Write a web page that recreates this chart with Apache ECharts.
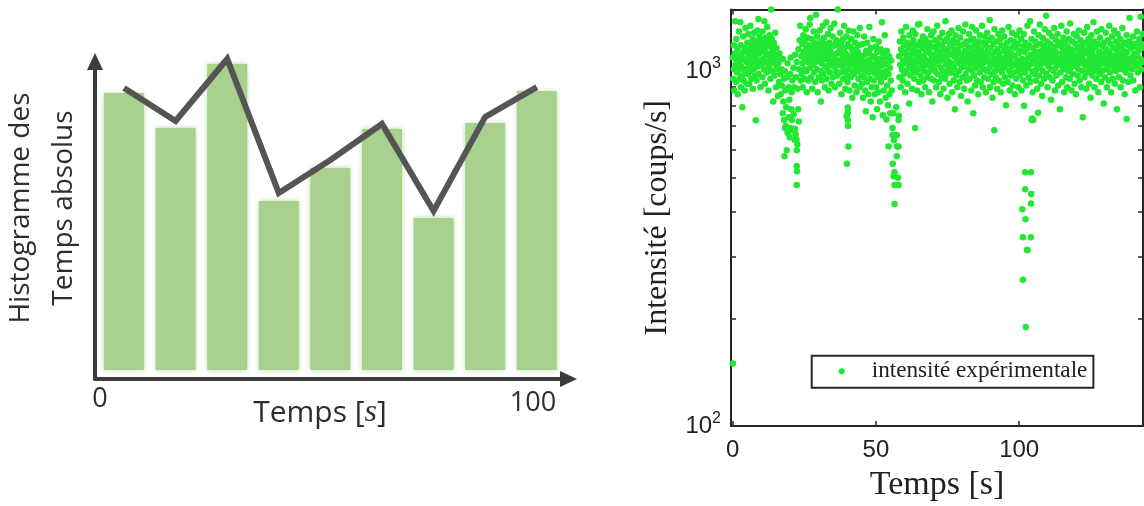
<!DOCTYPE html>
<html><head><meta charset="utf-8">
<script src="https://cdn.jsdelivr.net/npm/echarts@6/dist/echarts.min.js"></script>
<style>html,body{margin:0;padding:0;background:#fff}#c{width:1144px;height:506px}</style>
</head><body><div id="c"></div><script>
// ---------- left schematic histogram ----------
const histCategories = ['b1','b2','b3','b4','b5','b6','b7','b8','b9'];
const histBars = [86.6, 75.6, 95.6, 52.8, 63.1, 75.3, 47.5, 77.2, 87.2];
const histLine = [88.1, 77.8, 97.2, 55.3, 65.6, 76.9, 49.7, 79.1, 88.4];
const histXLabels = ['0', '100'];
const histYTitle = 'Histogramme des\nTemps absolus';

// ---------- right scatter (t [s], intensité [coups/s]) ----------
const scatterXTicks = [0, 50, 100];
const scatterYTicks = [100, 1000];
const scatterYMinor = [100, 200, 300, 400, 500, 600, 700, 800, 900, 1000];

const band_00_10 = [[0.1,1090],[0.2,950],[0.4,1180],[0.5,1010],[0.6,880],[0.8,1120],[0.9,1380],[1.0,1040],[1.2,930],[1.3,1230],[1.4,1070],[1.6,990],[1.7,1150],[1.8,860],[2.0,1100],[2.1,1010],[2.2,1290],[2.4,950],[2.5,1060],[2.7,1370],[2.8,1180],[2.9,900],[3.0,1030],[3.2,1120],[3.3,970],[3.4,790],[3.6,1080],[3.7,1250],[3.8,940],[4.0,1010],[4.1,1160],[4.2,880],[4.4,1070],[4.5,1320],[4.6,990],[4.8,1130],[4.9,920],
[5.0,1060],[5.1,1200],[5.3,980],[5.4,1110],[5.5,1270],[5.7,1030],[5.8,920],[5.9,1150],[6.1,1080],[6.2,1340],[6.3,1000],[6.5,1190],[6.6,950],[6.7,1120],[6.9,1050],[7.0,1230],[7.1,890],[7.3,1100],[7.4,1010],[7.5,1280],[7.7,1160],[7.8,970],[7.9,1060],[8.1,726],[8.1,1210],[8.2,1090],[8.4,940],[8.5,1140],[8.6,1300],[8.8,1030],[8.9,1180],[9.0,1400],[9.1,980],[9.3,1120],[9.4,1250],[9.6,1070],[9.7,900],[9.8,1170]];
const band_10_24 = [[10.0,1040],[10.1,1220],[10.3,1130],[10.4,960],[10.5,1290],[10.7,1080],[10.8,1190],[10.9,1010],[11.1,1380],[11.2,1150],[11.3,920],[11.5,1060],[11.6,1240],[11.7,1110],[11.9,990],[12.0,1180],[12.1,1330],[12.3,1050],[12.4,1210],[12.5,880],[12.7,1120],[12.8,1020],[12.9,1260],[13.1,1090],[13.2,950],[13.3,1170],[13.5,1489],[13.6,1060],[13.7,1230],[13.9,1000],[14.0,1140],[14.2,820],[14.3,1080],[14.4,1200],[14.6,970],[14.7,1110],[14.9,1280],[15.0,1040],[15.2,900],[15.3,1160],[15.5,1010],[15.7,1090],[15.8,850],
[16.0,1050],[16.2,930],[16.4,1120],[16.6,980],[16.8,860],[17.0,1010],[17.2,910],[17.5,1080],[17.7,820],[17.9,950],[18.2,1000],[18.4,880],[18.7,790],[19.0,960],[19.2,1050],[19.5,900],[19.8,830],[20.1,980],[20.3,1090],[20.6,870],[20.9,940],[21.2,1020],[21.5,900],[21.8,1110],[22.1,960],[22.4,1060],[22.7,890],[23.0,1150],[23.2,1010],[23.4,1220],[23.6,1340],[23.8,940]];
const dip_20 = [[17.5,760],[18.0,727],[18.1,575],[18.3,690],[18.6,700],[18.9,598],[19.2,670],[19.6,740],[19.9,650],[20.2,690],[20.5,780],[20.7,727],[21.1,680],[21.3,755],[21.6,640],[21.8,687],[22.0,663],[22.3,640],[22.4,598],[22.4,540],[22.5,522],[22.4,477],[22.6,620],[22.9,780],[23.1,720]];
const band_24_37 = [[24.0,1100],[24.1,980],[24.3,1190],[24.4,1050],[24.5,900],[24.7,1260],[24.8,1130],[25.0,1010],[25.1,1210],[25.2,950],[25.4,1080],[25.5,1310],[25.7,1160],[25.8,1000],[25.9,870],[26.1,1120],[26.2,1240],[26.3,1060],[26.5,940],[26.6,1180],[26.8,1090],[26.9,1350],[27.0,1020],[27.1,1410],[27.3,1140],[27.4,960],[27.5,1230],[27.7,1070],[27.8,890],[27.9,1170],[28.1,1040],[28.3,1290],[28.4,990],[28.5,1110],[28.7,1200],[28.8,930],[29.0,1060],[29.1,1440],[29.2,1150],[29.4,1010],[29.5,1250],[29.7,870],[29.8,1090],
[30.0,1180],[30.1,960],[30.3,1070],[30.4,1300],[30.5,1130],[30.7,1000],[30.8,820],[30.9,1210],[31.1,1050],[31.2,940],[31.3,1160],[31.5,1340],[31.6,1090],[31.7,980],[31.9,1240],[32.0,1120],[32.2,900],[32.3,1030],[32.4,1190],[32.6,1080],[32.7,1370],[32.8,950],[33.0,1150],[33.1,1010],[33.3,1270],[33.4,1100],[33.5,880],[33.7,1060],[33.8,1200],[33.9,990],[34.1,1130],[34.2,1320],[34.4,1040],[34.5,920],[34.6,1170],[34.8,1070],[34.9,1250],[35.0,960],[35.2,1110],[35.3,1030],[35.5,1360],[35.6,1180],[35.7,900],[35.9,1080],[36.0,1000],[36.2,1220],[36.3,1120],[36.5,970],[36.7,1489],[36.8,1060],[36.9,1190]];
const band_37_45 = [[37.1,1040],[37.2,920],[37.4,1150],[37.5,1280],[37.6,1070],[37.8,990],[37.9,1200],[38.0,860],[38.2,1110],[38.3,1030],[38.5,1230],[38.6,950],[38.7,1090],[38.9,1340],[39.0,1160],[39.2,1000],[39.3,890],[39.4,1120],[39.6,1050],[39.7,1250],[39.9,970],[40.0,1080],[40.1,930],[40.3,1190],[40.4,1010],[40.5,1300],[40.7,1100],[40.8,880],[41.0,1040],[41.1,1170],[41.2,960],[41.4,1230],[41.5,1070],[41.7,1000],[41.8,840],[41.9,1140],[42.1,1060],[42.2,1290],[42.4,980],[42.5,1110],[42.6,910],[42.8,1200],[42.9,1030],[43.0,1150],[43.2,870],[43.3,1090],[43.5,1260],[43.6,1000],[43.7,1130],[43.9,950],[44.0,1060],[44.2,1180],[44.3,900],[44.4,1320],[44.6,1040],[44.7,1100],[44.9,970]];
const dip_40 = [[39.9,548],[40.2,725],[40.2,764],[40.4,612],[40.2,789],[39.8,745],[40.3,700]];
const band_45_56 = [[45.0,1080],[45.1,920],[45.3,1010],[45.4,1190],[45.5,840],[45.7,1060],[45.8,960],[45.9,1250],[46.1,1110],[46.2,880],[46.4,1000],[46.5,770],[46.6,1140],[46.8,1030],[46.9,930],[47.0,1200],[47.2,1070],[47.3,860],[47.5,990],[47.6,1120],[47.7,1330],[47.9,950],[48.0,1050],[48.2,820],[48.3,1160],[48.4,1000],[48.6,900],[48.7,1090],[48.9,740],[49.0,1020],[49.1,1230],[49.3,940],[49.4,1100],[49.6,860],[49.7,1040],[49.8,980],[50.0,1170],[50.1,900],[50.3,1060],[50.4,780],[50.5,1130],[50.7,1000],[50.8,870],[51.0,1210],[51.1,960],[51.2,1080],[51.4,820],[51.5,1030],[51.7,1150],[51.8,930],[52.0,1060],[52.1,1370],[52.3,990],[52.4,750],[52.5,1120],[52.7,880],[52.8,1040],[53.0,960],[53.1,1260],[53.2,1090],[53.4,840],[53.5,1000],[53.7,730],[53.8,1140],[53.9,910],[54.1,1050],[54.2,800],[54.4,980],[54.6,1100],[54.7,860],[54.9,1020],[55.0,760],[55.2,940],[55.3,1070],[55.5,880]];
const dip_57 = [[54.4,612],[55.8,690],[55.8,660],[56.3,638],[55.9,548],[56.2,505],[56.5,518],[56.5,477],[56.5,422],[57.3,660],[57.3,575],[57.4,612],[57.9,612],[57.7,500],[57.9,477],[57.9,727],[58.0,748],[56.0,760],[57.1,790]];
const band_58_78 = [[58.1,1100],[58.2,960],[58.4,1210],[58.5,1040],[58.7,900],[58.8,1150],[58.9,1290],[59.1,1010],[59.2,1120],[59.4,940],[59.5,1070],[59.6,1240],[59.8,980],[59.9,1180],[60.1,1050],[60.2,870],[60.3,1130],[60.5,1330],[60.6,1000],[60.8,1090],[60.9,1200],[61.0,920],[61.2,1060],[61.3,1160],[61.5,1020],[61.6,810],[61.7,1260],[61.9,1110],[62.0,970],[62.2,1080],[62.3,1190],[62.4,1030],[62.6,890],[62.7,1140],[62.9,1300],[63.0,1000],
[63.1,1220],[63.3,1070],[63.4,950],[63.5,1150],[63.7,690],[63.7,1040],[63.8,1270],[64.0,990],[64.1,1110],[64.3,880],[64.4,1180],[64.5,1060],[64.7,1350],[64.8,1010],[65.0,1130],[65.1,930],[65.2,1355],[65.4,1090],[65.5,1210],[65.6,970],[65.8,1050],[65.9,860],[66.1,1160],[66.2,1020],[66.4,1250],[66.5,940],[66.6,1100],[66.8,1190],[66.9,1000],[67.1,1080],[67.2,900],[67.3,1230],[67.5,1130],[67.6,1040],[67.8,960],[67.9,1170],
[68.0,1310],[68.2,1060],[68.3,990],[68.5,1140],[68.6,870],[68.7,1200],[68.9,1030],[69.0,1120],[69.2,950],[69.3,1260],[69.4,1080],[69.6,1010],[69.7,820],[69.9,1170],[70.0,1050],[70.1,1290],[70.3,940],[70.4,1110],[70.6,1000],[70.7,1220],[70.8,1070],[71.0,900],[71.1,1150],[71.3,1040],[71.4,1340],[71.5,980],[71.7,1190],[71.8,1090],[72.0,930],[72.1,1060],[72.2,1240],[72.4,1130],[72.5,860],[72.7,1020],[72.8,1180],[72.9,960],
[73.1,1100],[73.2,1280],[73.4,1000],[73.5,1160],[73.6,890],[73.8,1070],[73.9,1210],[74.1,950],[74.2,1130],[74.3,1380],[74.5,1040],[74.6,980],[74.8,1230],[74.9,1090],[75.0,840],[75.2,1150],[75.3,1010],[75.5,1270],[75.6,1060],[75.7,920],[75.9,1190],[76.0,1120],[76.2,990],[76.3,1050],[76.4,1300],[76.6,870],[76.7,1170],[76.9,1030],[77.0,1220],[77.1,940],[77.3,1100],[77.4,1010],[77.6,780],[77.7,1140],[77.8,1260],[78.0,970]];
const band_78_98 = [[78.1,1080],[78.3,1200],[78.4,900],[78.5,1050],[78.7,1150],[78.8,1320],[79.0,1000],[79.1,1120],[79.2,930],[79.4,1240],[79.5,1070],[79.7,850],[79.8,1180],[79.9,1020],[80.1,1110],[80.2,960],[80.4,1290],[80.5,1060],[80.6,1190],[80.8,890],[80.9,1030],[81.1,1140],[81.2,1350],[81.3,980],[81.5,1090],[81.6,1210],[81.8,940],[81.9,1060],[82.0,820],[82.2,1170],[82.3,1010],[82.5,1270],[82.6,1120],[82.7,950],[82.9,1080],[83.0,1220],
[83.2,1040],[83.3,880],[83.4,1160],[83.6,1330],[83.7,1000],[83.9,1100],[84.0,760],[84.0,1230],[84.2,970],[84.3,1060],[84.5,1190],[84.6,910],[84.7,1130],[84.9,1020],[85.0,1300],[85.2,1080],[85.3,940],[85.5,1170],[85.6,1050],[85.7,860],[85.9,1210],[86.0,1110],[86.2,990],[86.3,1260],[86.4,1070],[86.6,930],[86.7,1150],[86.9,1030],[87.0,1340],[87.1,1090],[87.3,900],[87.4,1200],[87.6,1010],[87.7,1120],[87.8,960],[88.0,1250],
[88.1,1060],[88.3,1180],[88.4,870],[88.6,1100],[88.7,1000],[88.8,1280],[89.0,1140],[89.1,950],[89.3,1070],[89.4,1220],[89.6,1020],[89.7,1390],[89.8,900],[90.0,1160],[90.1,1050],[90.3,980],[90.4,1240],[90.5,1110],[90.7,840],[90.8,1040],[91.0,1190],[91.1,930],[91.3,681],[91.3,1080],[91.4,1310],[91.6,1000],[91.7,1130],[91.9,960],[92.0,1060],[92.1,1210],[92.3,890],[92.4,1150],[92.6,1030],[92.7,1270],[92.8,1090],[93.0,940],
[93.1,1120],[93.3,1010],[93.4,1230],[93.6,870],[93.7,1070],[93.8,1180],[94.0,990],[94.1,1300],[94.3,1050],[94.4,920],[94.6,1140],[94.7,1020],[94.8,1250],[95.0,1090],[95.1,960],[95.3,1170],[95.4,800],[95.6,1040],[95.7,1200],[95.8,1110],[96.0,930],[96.1,1060],[96.3,1330],[96.4,1000],[96.6,1150],[96.7,880],[96.8,1080],[97.0,1220],[97.1,970],[97.3,1120],[97.4,1030],[97.5,1280],[97.7,910],[97.8,1170],[98.0,1050],[98.1,990]];
const band_98_119 = [[98.3,1210],[98.4,1100],[98.5,860],[98.7,1040],[98.8,1160],[99.0,950],[99.1,1260],[99.3,1070],[99.4,1000],[99.5,1190],[99.7,900],[99.8,1120],[100.0,1030],[100.1,1300],[100.2,970],[100.4,1140],[100.5,1060],[100.7,1230],[100.8,880],[101.0,1080],[101.1,1010],[101.3,1170],[101.4,940],[101.6,1270],[101.7,798],[101.7,1050],[101.9,1130],[102.0,990],[102.2,1200],[102.3,1070],[102.5,910],[102.6,1150],[102.8,1020],[102.9,1340],[103.1,1090],[103.3,960],[103.5,1180],[103.6,1040],[103.8,1380],[103.9,930],[104.1,1110],
[104.3,1230],[104.4,1000],[104.6,1070],[104.7,870],[104.9,1160],[105.0,1050],[105.2,1290],[105.3,980],[105.5,1120],[105.6,1210],[105.8,940],[105.9,1080],[106.0,1010],[106.2,1180],[106.3,890],[106.5,1130],[106.6,1040],[106.8,1260],[106.9,970],[107.1,1100],[107.2,1350],[107.3,1020],[107.5,1190],[107.6,920],[107.8,1060],[107.9,1140],[108.0,850],[108.2,1240],[108.3,1000],[108.5,1090],[108.6,1170],[108.7,950],[108.9,1310],[109.0,1050],[109.2,1120],[109.4,1430],
[109.5,980],[109.6,1210],[109.8,1070],[109.9,900],[110.1,1150],[110.2,1030],[110.4,1280],[110.5,1100],[110.6,960],[110.8,1190],[110.9,1010],[111.1,830],[111.2,1130],[111.3,1060],[111.5,1250],[111.6,940],[111.8,1090],[111.9,1170],[112.0,1000],[112.2,1320],[112.3,1080],[112.5,880],[112.6,1140],[112.7,1020],[112.9,1220],[113.0,970],[113.2,1110],[113.3,1050],[113.4,1270],[113.6,910],[113.7,1180],[113.9,1040],[114.0,1090],[114.2,780],[114.3,1200],
[114.4,990],[114.6,1120],[114.7,1340],[114.9,1060],[115.0,930],[115.1,1160],[115.3,1010],[115.4,1240],[115.6,1080],[115.7,870],[115.9,1130],[116.0,1030],[116.1,1200],[116.3,960],[116.4,1100],[116.6,1290],[116.7,1050],[116.8,900],[117.0,1170],[117.1,1000],[117.3,1230],[117.4,1120],[117.6,950],[117.7,1070],[117.8,1360],[118.0,1020],[118.1,1150],[118.3,880],[118.4,1090],[118.5,1210],[118.7,980],[118.8,1140],[119.0,1040],[119.1,1270],[119.3,920]];
const dip_103 = [[102.1,518],[104.1,518],[102.1,464],[104.2,450],[104.1,423],[101.1,408],[102.2,382],[101.3,340],[104.1,340],[102.7,313],[102.9,313],[101.3,258],[102.3,190],[104.5,734],[104.9,727],[106.6,762],[104.4,727]];
const band_119_144 = [[119.4,1110],[119.5,1060],[119.7,1190],[119.8,860],[120.0,1030],[120.1,1250],[120.3,1100],[120.4,970],[120.5,1160],[120.7,1010],[120.8,1300],[121.0,1080],[121.1,940],[121.2,1130],[121.4,1050],[121.5,1220],[121.7,900],[121.8,1090],[122.0,1180],[122.1,1000],[122.2,740],[122.4,1140],[122.5,1070],[122.7,1280],[122.8,960],[122.9,1120],[123.1,1030],[123.2,1200],[123.4,890],[123.5,1060],[123.7,1330],[123.8,990],[123.9,1150],[124.1,1040],
[124.2,1230],[124.4,920],[124.5,1090],[124.7,1010],[124.8,1180],[124.9,840],[125.1,1120],[125.2,1260],[125.4,1050],[125.5,970],[125.6,1140],[125.8,1070],[125.9,1370],[126.1,1000],[126.2,1210],[126.3,900],[126.5,1100],[126.6,1030],[126.8,1170],[126.9,950],[127.1,1290],[127.2,1080],[127.3,1010],[127.5,1190],[127.6,870],[127.8,1060],[127.9,1130],[128.0,980],[128.2,1240],[128.3,1040],[128.5,1110],[128.6,930],[128.7,1310],[128.9,1090],[129.0,1000],
[129.2,1170],[129.3,1050],[129.5,810],[129.6,1200],[129.7,1120],[129.9,960],[130.0,1070],[130.2,1280],[130.3,1010],[130.4,1150],[130.6,900],[130.7,1090],[130.9,1220],[131.0,1030],[131.2,940],[131.3,1130],[131.4,1340],[131.6,1060],[131.7,990],[131.9,1190],[132.0,1110],[132.1,870],[132.3,1040],[132.4,1250],[132.6,1080],[132.7,950],[132.8,1160],[133.0,1020],[133.1,1300],[133.3,1100],[133.4,920],[133.6,1060],[133.7,1210],[133.8,1000],[134.0,1140],
[134.1,780],[134.3,1080],[134.4,1270],[134.5,1030],[134.7,1180],[134.8,960],[135.0,1120],[135.1,1050],[135.3,1230],[135.4,900],[135.5,1090],[135.7,1170],[135.8,1010],[136.0,1320],[136.1,1070],[136.2,940],[136.4,1140],[136.5,1040],[136.7,1200],[136.8,860],[137.0,1100],[137.1,1190],[137.2,990],[137.4,1060],[137.5,732],[137.5,1260],[137.7,1130],[137.8,1020],[138.0,1180],[138.1,930],[138.2,1080],[138.4,1210],[138.5,1410],[138.7,1050],[138.8,970],[139.0,1160],
[139.1,1190],[139.2,1090],[139.4,1010],[139.5,1190],[139.7,1250],[139.8,940],[140.0,1190],[140.1,1120],[140.3,1060],[140.4,1190],[140.5,880],[140.7,1170],[140.8,1030],[141.0,1190],[141.1,1290],[141.2,1100],[141.4,990],[141.5,1190],[141.7,1140],[141.8,1050],[141.9,1230],[142.1,900],[142.2,1190],[142.4,1420],[142.4,1080],[142.5,1010],[142.7,1160],[142.8,1190],[143.0,1060],[143.1,1270],[143.3,960],[143.4,1120],[143.5,570],[143.5,464],[143.5,397]];
const outliers = [[0.1,150]];

const scatterData = [].concat(band_00_10, band_10_24, dip_20, band_24_37, band_37_45, dip_40,
  band_45_56, dip_57, band_58_78, band_78_98, band_98_119, dip_103, band_119_144, outliers);

const GREEN = '#22e833';
const AX = '#262626';
const serif = 'Liberation Serif';
const sans = 'Liberation Sans';
const leftFont = 'Open Sans';
const leftInk = '#2e2e2e';

const chart = echarts.init(document.getElementById('c'), null, {renderer: 'canvas'});
chart.setOption({
  animation: false,
  backgroundColor: '#fff',
  grid: [
    {left: 98.2, width: 464.4, top: 50, bottom: 136, outerBoundsMode: 'none'},
    {left: 95, right: 575.5, top: 61.5, bottom: 127, outerBoundsMode: 'none'},
    {left: 731, right: 1, top: 9.5, bottom: 80, outerBoundsMode: 'none'}
  ],
  xAxis: [
    {gridIndex: 0, type: 'category', data: histCategories, boundaryGap: true, show: false},
    {gridIndex: 1, type: 'value', min: 0, max: 1,
      axisLine: {show: true, lineStyle: {color: '#3b3b3b', width: 4}, symbol: ['none', 'triangle'], symbolSize: [16, 17]},
      axisTick: {show: false}, axisLabel: {show: false}, splitLine: {show: false}},
    {gridIndex: 2, type: 'value', min: -0.55, max: 143.2, position: 'bottom',
      name: 'Temps [s]', nameLocation: 'middle', nameGap: 42,
      nameTextStyle: {fontFamily: serif, fontSize: 34, color: '#222'},
      axisLine: {show: true, onZero: false, lineStyle: {color: AX, width: 2}},
      axisTick: {show: true, inside: true, length: 5, lineStyle: {color: AX, width: 1.5}, customValues: scatterXTicks},
      axisLabel: {show: true, customValues: scatterXTicks, fontFamily: sans, fontSize: 24, color: '#222', margin: 12},
      splitLine: {show: false}},
    {gridIndex: 2, type: 'value', min: -0.55, max: 143.2, position: 'top',
      axisLine: {show: true, onZero: false, lineStyle: {color: AX, width: 2}},
      axisTick: {show: true, inside: true, length: 5, lineStyle: {color: AX, width: 1.5}, customValues: scatterXTicks},
      axisLabel: {show: false}, splitLine: {show: false}}
  ],
  yAxis: [
    {gridIndex: 0, type: 'value', min: 0, max: 100, show: false},
    {gridIndex: 1, type: 'value', min: 0, max: 1,
      axisLine: {show: true, lineStyle: {color: '#3b3b3b', width: 4}, symbol: ['none', 'triangle'], symbolSize: [16, 17]},
      axisTick: {show: false}, axisLabel: {show: false}, splitLine: {show: false}},
    {gridIndex: 2, type: 'log', logBase: 10, min: 100, max: 1489, position: 'left',
      name: 'Intensité [coups/s]', nameLocation: 'middle', nameGap: 57, nameRotate: 90,
      nameTextStyle: {fontFamily: serif, fontSize: 32, color: '#222'},
      axisLine: {show: true, onZero: false, lineStyle: {color: AX, width: 2}},
      axisTick: {show: true, inside: true, length: 5, lineStyle: {color: AX, width: 1.5}, customValues: scatterYMinor},
      axisLabel: {show: true, customValues: scatterYTicks, margin: 10,
        formatter: function (v) { return '{b|10}{s|' + Math.round(Math.log10(v)) + '}'; },
        rich: {b: {fontFamily: sans, fontSize: 24, color: '#222', lineHeight: 30},
               s: {fontFamily: sans, fontSize: 16, color: '#222', lineHeight: 16, verticalAlign: 'top'}}},
      splitLine: {show: false}},
    {gridIndex: 2, type: 'log', logBase: 10, min: 100, max: 1489, position: 'right',
      axisLine: {show: true, onZero: false, lineStyle: {color: AX, width: 2}},
      axisTick: {show: true, inside: true, length: 5, lineStyle: {color: AX, width: 1.5}, customValues: scatterYMinor},
      axisLabel: {show: false}, splitLine: {show: false}}
  ],
  legend: {
    data: ['intensité expérimentale'],
    left: 811.7, top: 355.7,
    orient: 'horizontal',
    padding: [4, 6, 5, 27],
    backgroundColor: '#fff',
    borderColor: AX, borderWidth: 2, borderRadius: 0,
    itemWidth: 6, itemHeight: 6, icon: 'circle',
    selectedMode: false,
    textStyle: {fontFamily: serif, fontSize: 23.2, color: '#222', padding: [0, 0, 0, 22]}
  },
  series: [
    {type: 'bar', xAxisIndex: 0, yAxisIndex: 0, data: histBars, barWidth: 40, silent: true,
      itemStyle: {color: '#a9d18e', shadowBlur: 5, shadowColor: 'rgba(169,209,142,0.9)'}},
    {type: 'line', xAxisIndex: 0, yAxisIndex: 0, data: histLine, symbol: 'none', silent: true,
      lineStyle: {color: '#555555', width: 6, join: 'miter', cap: 'butt'}},
    {name: 'intensité expérimentale', type: 'scatter', xAxisIndex: 2, yAxisIndex: 2,
      data: scatterData, symbol: 'circle', symbolSize: 6.5, clip: true, silent: true,
      itemStyle: {color: GREEN, opacity: 1}}
  ],
  graphic: [
    {type: 'text', x: 100, y: 399, silent: true,
      style: {text: histXLabels[0], fontFamily: leftFont, fontSize: 27, fill: leftInk, align: 'center', verticalAlign: 'middle'}},
    {type: 'text', x: 533, y: 403, silent: true,
      style: {text: histXLabels[1], fontFamily: leftFont, fontSize: 27, fill: leftInk, align: 'center', verticalAlign: 'middle'}},
    {type: 'text', x: 320, y: 413, silent: true,
      style: {text: 'Temps [{i|s}]', fontFamily: leftFont, fontSize: 30, fill: leftInk, align: 'center', verticalAlign: 'middle',
        rich: {i: {fontFamily: serif, fontStyle: 'italic', fontSize: 32, fill: leftInk}}}},
    {type: 'text', x: 43, y: 208, rotation: Math.PI / 2, silent: true,
      style: {text: histYTitle, fontFamily: leftFont, fontSize: 28, lineHeight: 43, fill: leftInk, align: 'center', verticalAlign: 'middle'}}
  ]
});
</script></body></html>
